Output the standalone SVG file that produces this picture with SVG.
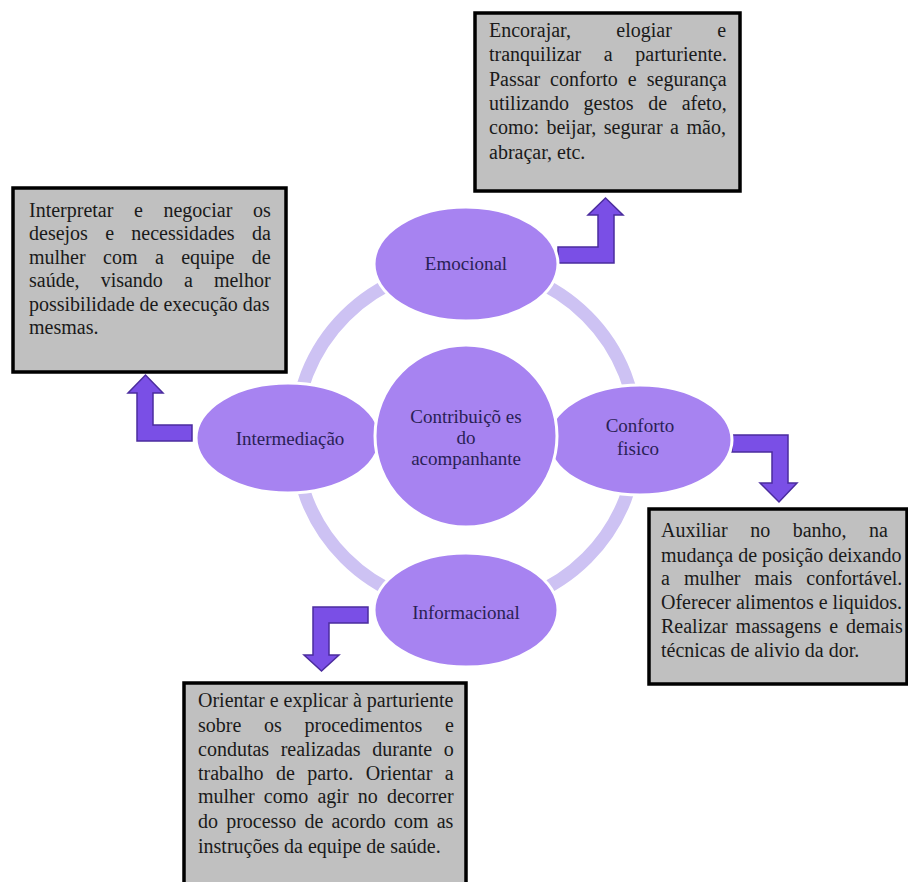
<svg xmlns="http://www.w3.org/2000/svg" width="908" height="882" viewBox="0 0 908 882">
<style>
.bg{fill:#ffffff}
.ring{fill:none;stroke:#cdc2f3;stroke-width:13}
.ell{fill:#a783f1;stroke:#ffffff;stroke-width:3}
.lbl{font-family:"Liberation Serif","Times New Roman",serif;font-size:19px;fill:#2a1f55;text-anchor:middle}
.box{fill:#c0c0c0;stroke:#000000;stroke-width:3.5}
.txt{font-family:"Liberation Serif","Times New Roman",serif;font-size:20px;fill:#1a1a1a}
.arr{fill:#7a4fe6;stroke:#4b2c9e;stroke-width:1.5;stroke-linejoin:miter}
</style>
<rect class="bg" x="0" y="0" width="908" height="882"/>
<g id="connectors">
  <circle class="ring" cx="466" cy="437" r="171"/>
  <path class="arr" d="M558,247 H598 V215 H588 L605.5,198 L623,215 H614 V263 H558 Z"/>
  <path class="arr" d="M732,435 H788 V483 H797 L779,502 L760,483 H772 V452 H732 Z"/>
  <path class="arr" d="M192,425 V441 H137 V393 H128 L145.5,375 L163,393 H153 V425 Z"/>
  <path class="arr" d="M368,607 V623 H329 V655 H339 L321.5,671 L304,655 H313 V607 Z"/>
</g>
<g id="emocional">
  <ellipse class="ell" cx="466" cy="264" rx="92" ry="57"/>
  <text class="lbl" x="466" y="270">Emocional</text>
</g>
<g id="intermediacao">
  <ellipse class="ell" cx="288" cy="438" rx="92" ry="55"/>
  <text class="lbl" x="290" y="445">Intermediação</text>
</g>
<g id="conforto">
  <ellipse class="ell" cx="640" cy="440" rx="92" ry="55"/>
  <text class="lbl" x="640" y="432">Conforto</text>
  <text class="lbl" x="638" y="455">fisico</text>
</g>
<g id="informacional">
  <ellipse class="ell" cx="466" cy="610" rx="92" ry="57"/>
  <text class="lbl" x="466" y="619">Informacional</text>
</g>
<g id="centro">
  <circle class="ell" cx="466" cy="436" r="91"/>
  <text class="lbl" x="466" y="423">Contribuiçõ es</text>
  <text class="lbl" x="466" y="444">do</text>
  <text class="lbl" x="466" y="465">acompanhante</text>
</g>
<g id="box-emocional">
  <rect class="box" x="475" y="13" width="265" height="178"/>
  <text class="txt" x="489" y="37" word-spacing="40.4">Encorajar, elogiar e</text>
  <text class="txt" x="489" y="61" word-spacing="17.6">tranquilizar a parturiente.</text>
  <text class="txt" x="489" y="86" word-spacing="5">Passar conforto e segurança</text>
  <text class="txt" x="489" y="110" word-spacing="9.6">utilizando gestos de afeto,</text>
  <text class="txt" x="489" y="134" word-spacing="2.5">como: beijar, segurar a mão,</text>
  <text class="txt" x="489" y="159">abraçar, etc.</text>
</g>
<g id="box-intermediacao">
  <rect class="box" x="13" y="188" width="273" height="184"/>
  <text class="txt" x="29" y="217" word-spacing="15.6">Interpretar e negociar os</text>
  <text class="txt" x="29" y="240" word-spacing="12.3">desejos e necessidades da</text>
  <text class="txt" x="29" y="264" word-spacing="12.4">mulher com a equipe de</text>
  <text class="txt" x="29" y="287" word-spacing="16.1">saúde, visando a melhor</text>
  <text class="txt" x="29" y="311">possibilidade de execução das</text>
  <text class="txt" x="29" y="334">mesmas.</text>
</g>
<g id="box-conforto">
  <rect class="box" x="649" y="509" width="258" height="175"/>
  <text class="txt" x="661" y="537" word-spacing="17.5">Auxiliar no banho, na</text>
  <text class="txt" x="661" y="562">mudança de posição deixando</text>
  <text class="txt" x="661" y="585" word-spacing="9">a mulher mais confortável.</text>
  <text class="txt" x="661" y="609">Oferecer alimentos e liquidos.</text>
  <text class="txt" x="661" y="633" word-spacing="3">Realizar massagens e demais</text>
  <text class="txt" x="661" y="657">técnicas de alivio da dor.</text>
</g>
<g id="box-informacional">
  <rect class="box" x="184" y="683" width="282" height="210"/>
  <text class="txt" x="198" y="707">Orientar e explicar à parturiente</text>
  <text class="txt" x="198" y="732" word-spacing="17.7">sobre os procedimentos e</text>
  <text class="txt" x="198" y="756" word-spacing="6.6">condutas realizadas durante o</text>
  <text class="txt" x="198" y="780" word-spacing="7.4">trabalho de parto. Orientar a</text>
  <text class="txt" x="198" y="803" word-spacing="4.2">mulher como agir no decorrer</text>
  <text class="txt" x="198" y="828" word-spacing="3.2">do processo de acordo com as</text>
  <text class="txt" x="198" y="853">instruções da equipe de saúde.</text>
</g>
</svg>
